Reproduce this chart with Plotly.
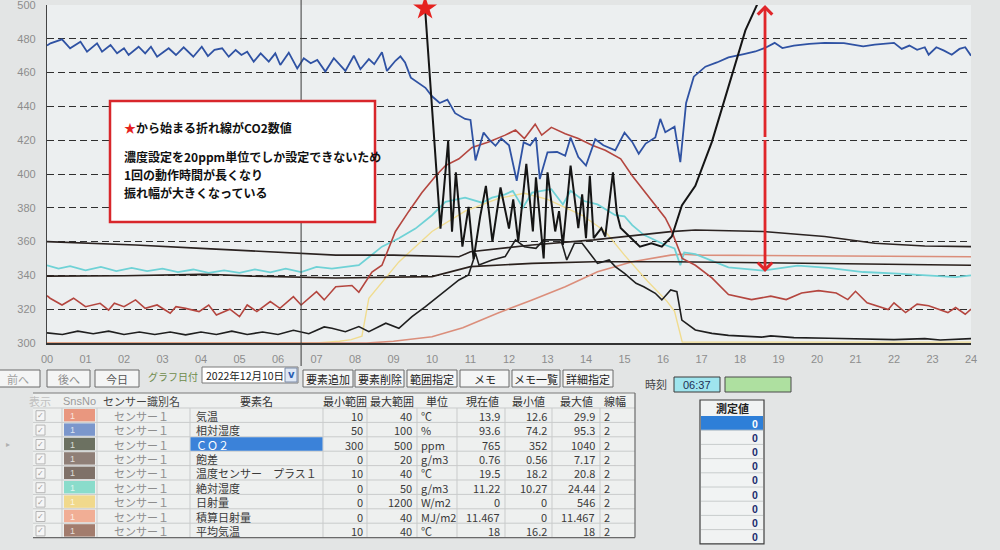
import plotly.graph_objects as go

W, H = 1000, 550
JP = "Noto Sans CJK JP"

# ---------------- chart data (read on the 300-500 chart scale, hours 0-24) ----------------
x_tick_vals = [0, 1, 2, 3, 4, 5, 6, 7, 8, 9, 10, 11, 12, 13, 14, 15, 16, 17, 18, 19, 20, 21, 22, 23, 24]
x_tick_text = ["00", "01", "02", "03", "04", "05", "06", "07", "08", "09", "10", "11", "12",
               "13", "14", "15", "16", "17", "18", "19", "20", "21", "22", "23", "24"]
y_tick_vals = [300, 320, 340, 360, 380, 400, 420, 440, 460, 480, 500]

cursor_hour = 6.6          # 時刻 06:37
star_hour, star_value = 9.82, 498
arrow_hour, arrow_low, arrow_high = 18.65, 342, 500

# 相対湿度 (blue)
t_rh = [0.0, 0.09, 0.39, 0.6, 0.87, 1.04, 1.3, 1.43, 1.65, 1.82, 2.0, 2.12, 2.38, 2.55, 2.7, 2.86,
        3.16, 3.35, 3.55, 3.8, 4.02, 4.18, 4.35, 4.55, 4.72, 4.9, 5.05, 5.2, 5.37, 5.55, 5.76, 5.93,
        6.06, 6.28, 6.5, 6.67, 6.85, 7.02, 7.23, 7.45, 7.75, 7.97, 8.14, 8.36, 8.5, 8.7, 8.83, 9.05,
        9.18, 9.3, 9.45, 9.83, 10.0, 10.2, 10.4, 10.6, 10.86, 11.0, 11.13, 11.34, 11.5, 11.65, 11.8,
        12.0, 12.2, 12.38, 12.55, 12.7, 12.8, 13.0, 13.25, 13.46, 13.6, 13.8, 14.0, 14.24, 14.45,
        14.76, 15.0, 15.2, 15.37, 15.55, 15.8, 15.93, 16.06, 16.3, 16.45, 16.6, 16.8, 17.1, 17.4,
        17.7, 18.1, 18.4, 18.65, 18.9, 19.1, 19.4, 19.8, 20.2, 20.7, 21.2, 21.5, 21.7, 22.0, 22.2,
        22.4, 22.6, 22.8, 22.9, 23.1, 23.3, 23.5, 23.7, 23.85, 24.0]
v_rh = [476, 477.3, 479.7, 474.4, 478.3, 472.4, 477.3, 472.4, 476.3, 471.4, 474.4, 470.4, 475.3,
        471.4, 475.3, 469.4, 474.4, 470.4, 475, 469.4, 475.3, 469.8, 473.4, 474.4, 469.4, 473.4,
        470.4, 472.4, 466.5, 471.4, 466.5, 471.4, 464.5, 471.8, 462.5, 468.5, 465.5, 467.5, 460.6,
        468.5, 461, 470, 462, 468, 465, 472, 461, 467, 469.6, 466, 457, 451, 446, 442, 444, 436,
        432.6, 432, 408, 424.5, 420, 416.7, 421, 417, 396, 418.7, 417, 421.6, 397, 412.8, 413,
        410.8, 421.6, 410, 405, 420.6, 417, 414, 424.5, 419, 412, 418, 421.6, 432.6, 424.7, 428,
        407, 442, 457.6, 463.5, 466, 469, 471, 472.5, 474.6, 477.6, 474.5, 476, 477, 477.6, 477.4,
        475.5, 476.5, 477, 477.6, 474, 476, 473.5, 475, 470.6, 475, 473, 470.6, 474, 475, 470]

# CO2 (black, starts at the star)
t_co2 = [9.82, 10.22, 10.42, 10.52, 10.62, 10.79, 10.95, 11.08, 11.25, 11.4, 11.57, 11.78, 12.0,
         12.11, 12.24, 12.45, 12.62, 12.7, 12.9, 13.0, 13.2, 13.3, 13.4, 13.6, 13.8, 13.9, 14.0,
         14.1, 14.2, 14.4, 14.5, 14.7, 14.8, 14.9, 15.4, 15.7, 15.97, 16.23, 16.49, 16.84, 17.27,
         17.7, 18.14, 18.5, 18.9]
v_co2 = [498, 367.7, 419.6, 365.8, 401, 357, 380.5, 349.6, 374.6, 393, 360, 392, 367.7, 385, 360,
         406, 366, 398, 350, 401, 366, 378, 358, 405, 368, 388, 362, 399, 362, 368, 363, 401, 377,
         368, 357, 359, 357, 363, 381.4, 393, 419, 452, 485, 503, 530]

# 気温 (red-brown)
t_temp = [0.0, 0.08, 0.39, 0.69, 1.0, 1.38, 1.6, 1.75, 2.0, 2.3, 2.55, 2.86, 3.2, 3.35, 3.6, 3.95,
          4.2, 4.4, 4.75, 5.0, 5.2, 5.45, 5.8, 6.05, 6.4, 6.6, 7.0, 7.2, 7.5, 7.92, 8.1, 8.44, 8.7,
          9.05, 9.4, 9.74, 10.1, 10.35, 10.7, 11.04, 11.47, 11.9, 12.17, 12.4, 12.68, 12.85, 13.1,
          13.46, 13.8, 14.16, 14.5, 14.9, 15.2, 15.6, 16.06, 16.2, 16.5, 16.84, 17.27, 17.7, 18.3,
          18.8, 19.2, 19.6, 20.04, 20.5, 20.8, 21.0, 21.3, 21.85, 22.0, 22.3, 22.6, 22.9, 23.4,
          23.6, 23.85, 24.0]
v_temp = [328, 326.5, 322.5, 326.5, 321.5, 323.5, 319.5, 323.5, 321.5, 325.5, 320.5, 322.5, 317.6,
          321.5, 320.5, 318.6, 322.5, 316.6, 320, 315.6, 322.5, 318.6, 324.5, 320.5, 327.4, 322.5,
          330.4, 325.5, 333.3, 334, 330, 342, 346, 366, 378, 389, 399, 405, 409, 415.7, 419, 423,
          426, 421, 429.5, 423, 427.6, 423.8, 421, 417, 414, 409, 399, 387.6, 374, 367.7, 350, 346,
          338.5, 328.7, 325.7, 327.7, 325.7, 329.6, 331, 329.6, 325.7, 330.6, 323.8, 319.8, 323.8,
          318, 323, 322, 318, 321, 317, 320]

# 絶対湿度 (cyan)
t_ah = [0, 0.3, 0.6, 1.0, 1.4, 1.8, 2.2, 2.6, 3.0, 3.4, 3.8, 4.2, 4.6, 5.0, 5.4, 5.8, 6.2, 6.6, 7.0,
        7.4, 8.1, 8.7, 9.14, 9.57, 10.0, 10.35, 10.86, 11.3, 11.56, 11.9, 12.1, 12.36, 12.6, 12.9,
        13.1, 13.4, 13.6, 13.95, 14.3, 14.76, 15.0, 15.2, 15.5, 16.06, 16.3, 16.45, 16.55, 16.84,
        17.7, 18.6, 19.5, 20.3, 21.2, 22.1, 23.0, 23.6, 24.0]
v_ah = [346, 344, 345.5, 343, 345, 342.5, 344.5, 342.5, 344, 342, 343.5, 341.5, 343, 341.5, 343.5,
        341.8, 344, 342, 345, 344, 346, 357, 362, 367.7, 375.6, 383.5, 386, 383, 386, 388, 390, 380,
        389, 390, 391, 382, 390, 384, 382, 375.6, 375, 369.7, 364, 358, 356, 346, 353.6, 352.6,
        344.8, 342.8, 345.8, 344.5, 342, 341, 340, 339, 340]

# 日射量 (yellow)
t_sol = [0, 7.0, 7.6, 7.9, 8.18, 8.36, 9.14, 10.0, 10.86, 11.73, 12.4, 13.0, 13.9, 14.5, 15.0, 15.6,
         16.1, 16.3, 16.5, 17.0, 24.0]
v_sol = [300, 300, 301, 302, 304, 326.5, 348, 366, 378, 385.6, 388.6, 385, 375.6, 366, 352, 336.6,
         324.8, 318.8, 300.5, 300.5, 300.5]

# 積算日射量 (salmon)
t_acc = [0, 8.3, 9.0, 10.0, 10.8, 11.7, 12.6, 13.46, 14.3, 15.2, 16.2, 16.5, 17.0, 24.0]
v_acc = [300, 300, 301, 303.7, 309, 317.6, 325.5, 333.3, 342.2, 348.1, 352, 352.5, 352, 351]

# 温度センサー プラス1 (dark)
t_tp1 = [0, 2.3, 4.0, 5.76, 6.6, 7.5, 9.0, 10.7, 11.0, 12.6, 14.2, 16.2, 16.84, 18.6, 20.2, 21.5,
         22.8, 24.0]
v_tp1 = [360, 358, 356, 354, 353, 352, 352, 351, 354, 358, 361, 365.9, 366.9, 366, 363, 359, 357.4,
         357]

# 平均気温 (dark)
t_avg = [0, 2.0, 4.0, 4.5, 5.3, 7.5, 10.0, 11.0, 12.6, 14.2, 16.2, 20.0, 24.0]
v_avg = [339.6, 339.8, 340.6, 340.4, 339.6, 338.5, 339.3, 345.2, 347.1, 348.1, 348.1, 347, 346]

# 飽差 (dark)
t_vpd = [0, 0.4, 0.8, 1.2, 1.6, 2.0, 2.4, 2.8, 3.2, 3.6, 4.0, 4.4, 4.8, 5.2, 5.6, 6.0, 6.4, 6.8,
         7.2, 7.4, 7.75, 8.1, 8.36, 8.8, 9.14, 9.48, 9.83, 10.26, 10.7, 10.95, 11.13, 11.22, 11.56,
         11.9, 12.17, 12.4, 12.7, 12.9, 13.35, 13.5, 13.7, 13.9, 14.1, 14.3, 14.6, 14.76, 15.0,
         15.3, 15.5, 15.8, 15.97, 16.2, 16.36, 16.49, 16.84, 17.27, 17.7, 18.57, 18.8, 19.4, 20.3,
         21.2, 22.0, 22.8, 23.2, 24.0]
v_vpd = [306, 305, 307, 305.5, 307, 305, 306.5, 305, 306.5, 304.8, 306.5, 305, 307, 305, 306.5,
         305, 307.5, 305.5, 309.5, 308.7, 306.7, 309.7, 306.7, 311.7, 308.7, 315.6, 321.5, 329.4,
         337.3, 340.2, 353.1, 346.2, 349.1, 351.1, 361, 357, 356, 361, 361, 349.1, 359, 359, 353.1,
         347.1, 349.1, 345.2, 341.2, 335.3, 333.3, 329.4, 325.5, 331.4, 330.4, 313.6, 307.7, 305.7,
         304.5, 303.5, 304.2, 303.2, 302.8, 302.6, 302, 302.6, 301.8, 302.6]

# ---------------- text data ----------------
note_title = "から始まる折れ線がCO2数値"
note_lines = ["濃度設定を20ppm単位でしか設定できないため", "1回の動作時間が長くなり", "振れ幅が大きくなっている"]

toolbar_labels = ["前へ", "後へ", "今日", "要素追加", "要素削除", "範囲指定", "メモ", "メモ一覧", "詳細指定"]
graph_date_label = "グラフ日付"
graph_date = "2022年12月10日"
time_label = "時刻"
time_value = "06:37"

header_labels = ["表示", "SnsNo", "センサー識別名", "要素名", "最小範囲", "最大範囲", "単位",
                 "現在値", "最小値", "最大値", "線幅"]
sns_no = ["1", "1", "1", "1", "1", "1", "1", "1", "1"]
sensor_names = ["センサー１"] * 9
elem_names = ["気温", "相対湿度", "ＣＯ２", "飽差", "温度センサー　プラス１", "絶対湿度", "日射量",
              "積算日射量", "平均気温"]
min_range = ["10", "50", "300", "0", "10", "0", "0", "0", "10"]
max_range = ["40", "100", "500", "20", "40", "50", "1200", "40", "40"]
units = ["℃", "%", "ppm", "g/m3", "℃", "g/m3", "W/m2", "MJ/m2", "℃"]
current_val = ["13.9", "93.6", "765", "0.76", "19.5", "11.22", "0", "11.467", "18"]
min_val = ["12.6", "74.2", "352", "0.56", "18.2", "10.27", "0", "0", "16.2"]
max_val = ["29.9", "95.3", "1040", "7.17", "20.8", "24.44", "546", "11.467", "18"]
line_width_col = ["2", "2", "2", "2", "2", "2", "2", "2", "2"]
measured_title = "測定値"
measured_vals = ["0", "0", "0", "0", "0", "0", "0", "0", "0"]

# ---------------- styles ----------------
sns_colors = ["#e9977f", "#7b97cc", "#6c7161", "#8f7f77", "#7f7168", "#8adccb", "#f1d98c",
              "#f1ae95", "#a27c6d"]

fig = go.Figure()

def line_trace(t, v, color, width, name):
    fig.add_trace(go.Scatter(x=t, y=v, mode="lines", name=name,
                             line=dict(color=color, width=width), hoverinfo="skip"))

line_trace(t_sol, v_sol, "#f0dc8f", 1.4, "日射量")
line_trace(t_acc, v_acc, "#db8e7b", 1.6, "積算日射量")
line_trace(t_ah, v_ah, "#6fd2d6", 1.8, "絶対湿度")
line_trace(t_avg, v_avg, "#2a201c", 1.6, "平均気温")
line_trace(t_tp1, v_tp1, "#2b2321", 1.6, "温度センサー プラス1")
line_trace(t_vpd, v_vpd, "#1f1f1f", 1.6, "飽差")
line_trace(t_temp, v_temp, "#b4463f", 1.6, "気温")
line_trace(t_rh, v_rh, "#2f52a3", 1.8, "相対湿度")
line_trace(t_co2, v_co2, "#151515", 2.0, "CO2")
fig.add_trace(go.Scatter(x=[star_hour], y=[star_value], mode="markers", cliponaxis=False,
                         marker=dict(symbol="star", size=18, color="#e5221f"), hoverinfo="skip"))

def px(x):
    return x / W

def py(y):
    return 1 - y / H

shapes = []
annos = []

def rect(x0, y0, x1, y1, fill, line="rgba(0,0,0,0)", lw=1):
    shapes.append(dict(type="rect", xref="paper", yref="paper", x0=px(x0), x1=px(x1),
                       y0=py(y1), y1=py(y0), fillcolor=fill, line=dict(color=line, width=lw),
                       layer="above"))

def seg(x0, y0, x1, y1, color, lw=1):
    shapes.append(dict(type="line", xref="paper", yref="paper", x0=px(x0), x1=px(x1),
                       y0=py(y0), y1=py(y1), line=dict(color=color, width=lw), layer="above"))

def txt(x, y, s, size=11, color="#333", anchor="center", family=JP, weight=None):
    f = dict(size=size, color=color, family=family)
    if weight:
        f["weight"] = weight
    annos.append(dict(xref="paper", yref="paper", x=px(x), y=py(y), text=s, showarrow=False,
                      xanchor=anchor, yanchor="middle", font=f))

# cursor line (behind the note box)
shapes.append(dict(type="line", xref="x", yref="paper", x0=cursor_hour, x1=cursor_hour,
                   y0=py(366), y1=1, line=dict(color="#3a3a3a", width=1), layer="above"))

# note box
rect(110, 101, 375, 222, "#ffffff", "#d8262b", 2.5)
txt(122, 127, "<span style='color:#e5221f'>★</span>" + note_title, 12, "#111", "left", JP, 600)
for i, s in enumerate(note_lines):
    txt(122, 157 + i * 18, s, 12, "#111", "left", JP, 600)

# red double arrow
for end in (arrow_low, arrow_high):
    annos.append(dict(x=arrow_hour, y=end, ax=arrow_hour, ay=(arrow_low + arrow_high) / 2,
                      xref="x", yref="y", axref="x", ayref="y", text="", showarrow=True,
                      arrowhead=4, arrowsize=1.0, arrowwidth=2.8, arrowcolor="#e0262a"))

# ---------------- toolbar ----------------
btn_x = [(-4, 40), (47, 90), (95, 139), (303, 353), (355, 404), (407, 457), (460, 509), (512, 560),
         (563, 613)]
btn_col = ["#a0a0a0", "#8c8c8c", "#555", "#222", "#222", "#222", "#222", "#222", "#222"]
for (x0, x1), lab, c in zip(btn_x, toolbar_labels, btn_col):
    rect(x0, 370, x1, 387, "#f4f5f5", "#6b6b6b", 1)
    txt((x0 + x1) / 2, 378.5, lab, 11, c)
txt(173, 376, graph_date_label, 10, "#6f8c4c")
rect(202, 367, 298, 383, "#ffffff", "#7a7a7a", 1)
txt(204, 375.5, graph_date, 10.5, "#222", "left")
rect(285, 368, 297, 382, "#dfe8f5", "#7a8aa5", 1)
txt(291, 374.5, "v", 10, "#2a5db0", "center", "DejaVu Sans", 700)
txt(656, 384, time_label, 11, "#444")
rect(674, 377, 720, 392, "#9fe5ee", "#3a3a3a", 1)
txt(697, 384.5, time_value, 11, "#1d2f55", "center", "Liberation Sans")
rect(725, 377, 791, 392, "#aee0a0", "#4a4a4a", 1)

# ---------------- table ----------------
col_edges = [33, 62, 97, 190, 323, 367, 417, 457, 505, 552, 600, 635]
hdr_cx = [40, 79, 141, 256, 345, 392, 437, 482, 528, 576, 615]
tbl_top, hdr_bot, row_h = 393, 408, 14.4
n_rows = len(elem_names)
tbl_bot = hdr_bot + n_rows * row_h
rect(33, tbl_top, 635, tbl_bot, "#eef0ef", "rgba(0,0,0,0)", 0)
for i in range(n_rows + 1):
    yy = hdr_bot + i * row_h
    seg(33, yy, 635, yy, "#c9cbcb", 1)
for xx in col_edges[1:-1]:
    seg(xx, hdr_bot, xx, tbl_bot, "#c9cbcb", 1)
seg(33, tbl_top, 635, tbl_top, "#7a7a7a", 1)
seg(635, tbl_top, 635, tbl_bot, "#6a6a6a", 1.2)
seg(33, tbl_bot, 635, tbl_bot, "#6a6a6a", 1.2)
hdr_col = ["#c0c0c0", "#9a9a9a", "#444", "#333", "#333", "#333", "#333", "#333", "#333", "#333", "#333"]
for s, cx, c in zip(header_labels, hdr_cx, hdr_col):
    txt(cx, 401, s, 11, c, "center", JP if s != "SnsNo" else "Liberation Sans")
txt(8, hdr_bot + 2.5 * row_h, "▸", 8, "#b0b0b0", "center", "DejaVu Sans")

for r in range(n_rows):
    top = hdr_bot + r * row_h
    cy = top + row_h / 2 + 0.5
    rect(36, cy - 5, 45, cy + 5, "#f6f6f6", "#b5b5b5", 1)
    txt(40.5, cy, "✓", 8, "#9a9a9a", "center", "DejaVu Sans")
    rect(64, top + 1, 95, top + row_h - 1, sns_colors[r], "rgba(0,0,0,0)", 0)
    txt(68, cy, sns_no[r], 9, "rgba(255,255,255,0.75)", "left", "Liberation Sans")
    txt(141, cy, sensor_names[r], 11, "#8d8d8d")
    if r == 2:
        rect(190.5, top + 0.5, 322.5, top + row_h - 0.5, "#3b82d9", "rgba(0,0,0,0)", 0)
        txt(194, cy, elem_names[r], 11, "#ffffff", "left")
    else:
        txt(194, cy, elem_names[r], 11, "#3a3a3a", "left")
    txt(365, cy, min_range[r], 11, "#3a3a3a", "right")
    txt(414, cy, max_range[r], 11, "#3a3a3a", "right")
    txt(419, cy, units[r], 11, "#3a3a3a", "left")
    txt(502, cy, current_val[r], 11, "#3a3a3a", "right")
    txt(549, cy, min_val[r], 11, "#3a3a3a", "right")
    txt(597, cy, max_val[r], 11, "#3a3a3a", "right")
    txt(602, cy, line_width_col[r], 11, "#3a3a3a", "left")

# ---------------- 測定値 panel ----------------
m_top, m_hdr, m_row = 400, 416, 14.2
m_bot = m_hdr + len(measured_vals) * m_row
rect(700, m_top, 764, m_bot, "#f1f3f3", "#3f3f3f", 1.2)
txt(732, 408, "<b>" + measured_title + "</b>", 11, "#222")
for i, v in enumerate(measured_vals):
    top = m_hdr + i * m_row
    if i == 0:
        rect(701, top, 763, top + m_row, "#2e7fd8", "rgba(0,0,0,0)", 0)
        txt(760, top + m_row / 2 + 0.5, "<b>" + v + "</b>", 10.5, "#ffffff", "right", "Liberation Sans")
    else:
        seg(701, top, 763, top, "#c8cccc", 1)
        txt(760, top + m_row / 2 + 0.5, "<b>" + v + "</b>", 10.5, "#1b2b6e", "right", "Liberation Sans")

fig.update_layout(
    width=W, height=H, margin=dict(l=0, r=0, t=0, b=0, autoexpand=False),
    paper_bgcolor="#e3e5e5", plot_bgcolor="#eceff0", showlegend=False,
    font=dict(family="Liberation Sans"),
    xaxis=dict(domain=[px(47), px(971)], range=[0, 24], tickvals=x_tick_vals, ticktext=x_tick_text,
               showgrid=False, zeroline=False, showline=True, linecolor="#333", linewidth=1.5,
               ticks="outside", ticklen=5, tickcolor="rgba(0,0,0,0)", ticklabeloverflow="allow",
               tickfont=dict(size=11, color="#8d8d8d", family="Liberation Sans")),
    yaxis=dict(domain=[py(343), py(5)], range=[300, 500], tickvals=y_tick_vals,
               showgrid=True, gridcolor="#2f2f2f", griddash="7px,4px", gridwidth=1.4,
               zeroline=False, showline=True, linecolor="#444", linewidth=1.2,
               ticks="outside", ticklen=8, tickcolor="rgba(0,0,0,0)", ticklabeloverflow="allow",
               tickfont=dict(size=11, color="#8d8d8d", family="Liberation Sans")),
    shapes=shapes, annotations=annos,
)

fig.write_html("out.html", config={"displayModeBar": False},
               post_script="document.body.style.margin='0px';document.body.style.overflow='hidden';")
